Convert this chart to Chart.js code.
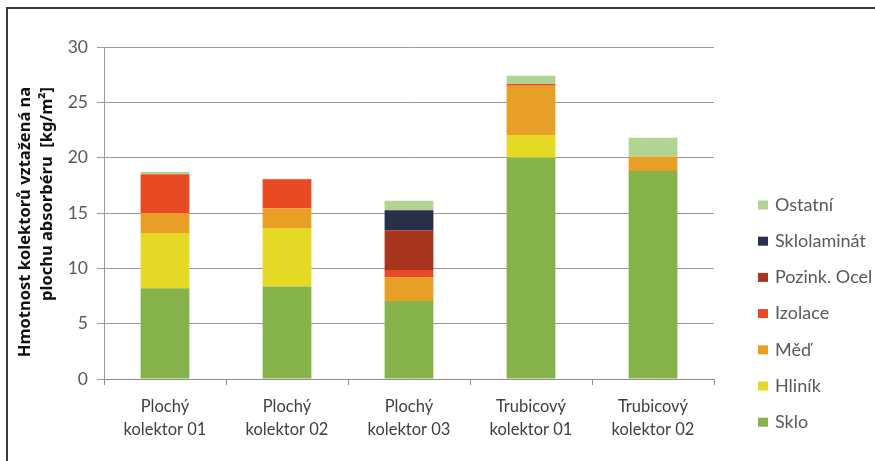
<!DOCTYPE html>
<html lang="cs">
<head>
<meta charset="utf-8">
<title>Hmotnost kolektorů</title>
<script src="https://cdn.jsdelivr.net/npm/chart.js@4/dist/chart.umd.min.js"></script>
<style>
  html, body { margin: 0; padding: 0; background: #fff; }
  #wrap { width: 875px; height: 461px; position: relative; }
</style>
</head>
<body>
<div id="wrap"><canvas id="c" width="875" height="461"></canvas></div>
<script>
// Kategorie (typy kolektorů)
const categories = [
  ['Plochý', 'kolektor 01'],
  ['Plochý', 'kolektor 02'],
  ['Plochý', 'kolektor 03'],
  ['Trubicový', 'kolektor 01'],
  ['Trubicový', 'kolektor 02']
];

// Hmotnost jednotlivých materiálů [kg/m²]
const sklo        = [8.2, 8.35, 7.05, 20.0, 18.8];
const hlinik      = [5.0, 5.3, 0, 2.05, 0];
const med         = [1.8, 1.75, 2.15, 4.45, 1.3];
const izolace     = [3.5, 2.65, 0.65, 0.15, 0];
const pozinkOcel  = [0, 0, 3.6, 0, 0];
const sklolaminat = [0, 0, 1.8, 0, 0];
const ostatni     = [0.2, 0.05, 0.85, 0.75, 1.7];

const seriesNames = ['Sklo', 'Hliník', 'Měď', 'Izolace', 'Pozink. Ocel', 'Sklolaminát', 'Ostatní'];
const seriesData  = [sklo, hlinik, med, izolace, pozinkOcel, sklolaminat, ostatni];
const seriesColors = ['#86b34c', '#e5d925', '#e89f26', '#e84a24', '#a9351e', '#272f4b', '#b1d492'];

const yTicks = [0, 5, 10, 15, 20, 25, 30];
const yTitleLines = ['Hmotnost kolektorů vztažená na', 'plochu absorbéru  [kg/m²]'];

const FONT = 'Lato, "Open Sans", sans-serif';
const TITLE_FONT = '"Noto Sans", "Open Sans", sans-serif';

// Rámeček grafu (levá a horní hrana)
const framePlugin = {
  id: 'frame',
  beforeDraw(chart) {
    const ctx = chart.ctx;
    ctx.save();
    ctx.fillStyle = '#fff';
    ctx.fillRect(0, 0, chart.width, chart.height);
    ctx.strokeStyle = '#3a3a3a';
    ctx.lineWidth = 2;
    ctx.strokeRect(7, 8, chart.width + 20, chart.height + 20);
    ctx.restore();
  }
};

// Popis osy Y ve dvou řádcích (tučně)
const yTitlePlugin = {
  id: 'yTitle',
  afterDraw(chart) {
    const ctx = chart.ctx;
    ctx.save();
    ctx.fillStyle = '#111';
    ctx.font = 'bold 16.5px ' + TITLE_FONT;
    ctx.textAlign = 'center';
    ctx.textBaseline = 'middle';
    const pos = [[25, 222], [47, 194]];
    yTitleLines.forEach((line, i) => {
      ctx.save();
      ctx.translate(pos[i][0], pos[i][1]);
      ctx.rotate(-Math.PI / 2);
      ctx.fillText(line, 0, 0);
      ctx.restore();
    });
    ctx.restore();
  }
};

// Legenda vpravo, v obráceném pořadí řad
const legendPlugin = {
  id: 'sideLegend',
  afterDraw(chart) {
    const ctx = chart.ctx;
    const ds = chart.data.datasets;
    ctx.save();
    ctx.font = '18px ' + FONT;
    ctx.textBaseline = 'middle';
    ctx.textAlign = 'left';
    for (let i = 0; i < ds.length; i++) {
      const d = ds[ds.length - 1 - i];
      const y = 205 + i * 36.2;
      ctx.fillStyle = d.backgroundColor;
      ctx.fillRect(758, y - 4.5, 10, 9);
      ctx.fillStyle = '#595959';
      ctx.fillText(d.label, 775, y);
    }
    ctx.restore();
  }
};

new Chart(document.getElementById('c'), {
  type: 'bar',
  data: {
    labels: categories,
    datasets: seriesNames.map((name, i) => ({
      label: name,
      data: seriesData[i],
      backgroundColor: seriesColors[i],
      borderWidth: 0,
      barPercentage: 0.4,
      categoryPercentage: 1.0
    }))
  },
  options: {
    responsive: false,
    animation: false,
    devicePixelRatio: 1,
    layout: { padding: { left: 0, top: 47, right: 161, bottom: 0 } },
    plugins: {
      legend: { display: false },
      tooltip: { enabled: false }
    },
    scales: {
      x: {
        stacked: true,
        afterFit(s) { s.height = 82; },
        grid: {
          offset: true,
          drawOnChartArea: false,
          drawTicks: true,
          tickLength: 6,
          color: '#8c8c8c'
        },
        border: { display: true, color: '#8c8c8c', width: 1 },
        ticks: {
          color: '#404040',
          font: { family: FONT, size: 16.5, lineHeight: 1.4 },
          padding: 10,
          maxRotation: 0
        }
      },
      y: {
        stacked: true,
        min: 0,
        max: 30,
        afterFit(s) { s.width = 104; },
        afterBuildTicks(s) { s.ticks = yTicks.map(v => ({ value: v })); },
        grid: {
          color: '#9a9a9a',
          drawTicks: true,
          tickLength: 7
        },
        border: { display: true, color: '#9a9a9a', width: 1 },
        ticks: {
          color: '#595959',
          font: { family: FONT, size: 17.5 },
          padding: 9
        }
      }
    }
  },
  plugins: [framePlugin, yTitlePlugin, legendPlugin]
});
</script>
</body>
</html>
